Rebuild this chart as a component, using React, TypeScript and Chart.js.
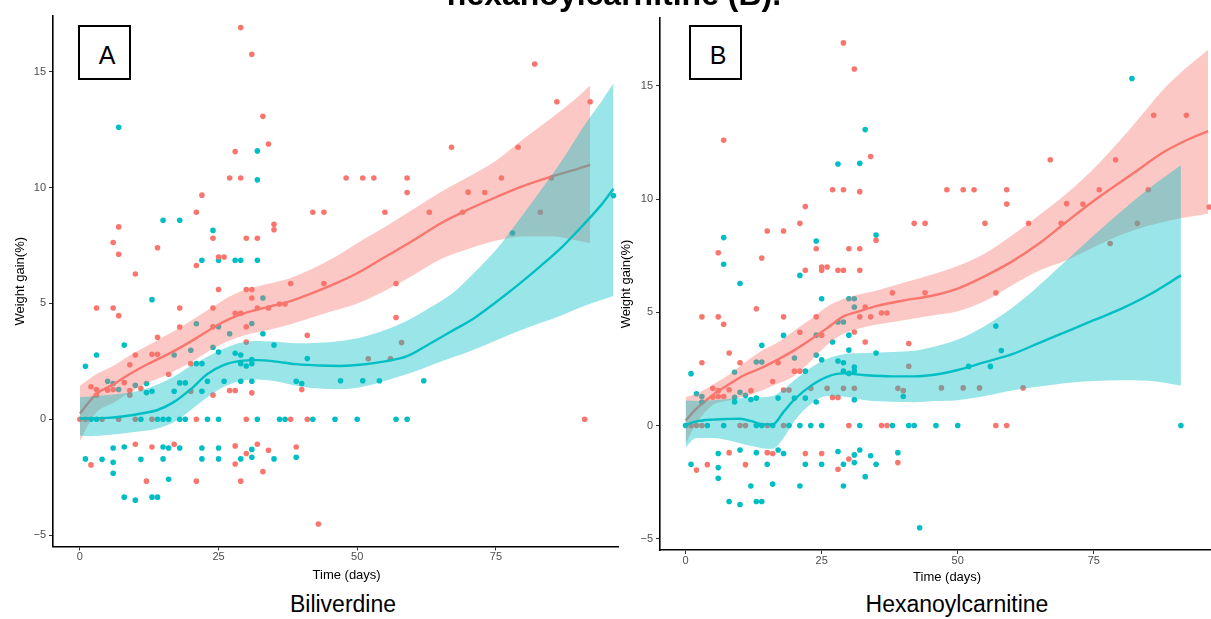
import React, { useEffect, useRef } from 'react';
import { Chart, registerables } from 'chart.js';

Chart.register(...registerables);

const RED = '#F8766D';
const CYAN = '#00BFC4';
const RED_FILL = 'rgba(248,118,109,0.4)';
const CYAN_FILL = 'rgba(0,191,196,0.4)';
const FONT = '"Liberation Sans", Arial, Helvetica, sans-serif';

const xTicks = [0, 25, 50, 75];
const yTicks = [-5, 0, 5, 10, 15];

// Observations (time in days, weight gain in %)
const timeDays = [
  29, 31, 82, 86, 92, 33, 7, 34, 28, 32,
  67, 79, 27, 29, 32, 48, 51, 53, 59, 76,
  85, 59, 70, 73, 22, 96.2, 21, 42, 44, 55,
  63, 69, 83, 15, 18, 35, 7, 35, 24, 78,
  24, 30, 32, 6, 14, 7, 25, 26, 22, 25,
  28, 29, 32, 21, 10, 38, 44, 57, 25, 30,
  31, 31, 33, 13, 36, 37, 3, 6, 18, 24,
  32, 34, 28, 29, 7, 57, 21, 31, 18, 24,
  25, 30, 27, 33, 41, 14, 30, 58, 8, 35,
  24, 20, 25, 28, 3, 10, 13, 14, 17, 29,
  41, 52, 56, 31, 9, 20, 21, 22, 29, 31,
  30, 1, 16, 5, 23, 26, 29, 31, 39, 47,
  51, 54, 62, 6, 12, 40, 8, 18, 19, 10,
  2, 3, 5, 6, 7, 9, 11, 12, 13, 17,
  20, 22, 27, 28, 40, 31, 3, 9, 24,
  0, 1, 2, 3, 4, 7, 10, 11, 13, 14, 15, 16, 18, 19, 21, 23, 25, 30, 32, 36, 37, 38, 41, 42, 46, 50, 57, 59, 91,
  6, 8, 10, 13, 15, 16, 17, 18, 22, 25, 28, 32, 31, 34, 39, 30, 1, 4, 11, 15,
  22, 25, 29, 31, 35, 39, 6, 2, 28, 33, 6, 12, 16, 21, 29, 8, 10, 13, 14, 43,
];

const weightGain = [
  16.9, 15.75, 15.33, 13.7, 13.7, 13.07, 12.6, 11.88, 11.55, 11.58,
  11.74, 11.74, 10.41, 10.41, 10.33, 10.41, 10.41, 10.41, 10.41, 10.41,
  10.41, 9.78, 9.8, 9.78, 9.67, 9.65, 8.93, 8.93, 8.93, 8.93,
  8.93, 8.93, 8.93, 8.59, 8.59, 8.41, 8.3, 8.18, 8.15, 8.04,
  7.81, 7.81, 7.81, 7.63, 7.4, 7.12, 7.0, 7.0, 6.86, 6.86,
  6.86, 6.86, 6.86, 6.63, 6.27, 5.86, 5.86, 5.86, 5.6, 5.6,
  5.6, 5.23, 5.23, 5.16, 4.97, 4.97, 4.8, 4.8, 4.8, 4.8,
  4.8, 4.8, 4.57, 4.57, 4.47, 4.39, 4.12, 4.13, 3.98, 3.99,
  3.99, 3.99, 3.69, 3.69, 3.62, 3.54, 3.33, 3.31, 3.2, 3.2,
  3.11, 2.98, 2.9, 2.85, 2.77, 2.77, 2.8, 2.8, 2.77, 2.77,
  2.62, 2.61, 2.61, 2.58, 2.35, 2.4, 2.4, 2.4, 2.4, 2.4,
  2.3, 2.29, 1.94, 1.64, 1.64, 1.64, 1.64, 1.64, 1.64, 1.66,
  1.66, 1.66, 1.66, 1.54, 1.54, 1.54, 1.58, 1.57, 1.57, 1.47,
  1.4, 1.28, 1.25, 1.28, 1.28, 1.24, 1.33, 1.15, 1.21, 1.21,
  1.21, 1.21, 1.24, 1.24, 1.28, 1.14, 1.04, 1.04, 1.04,
  0, 0, 0, 0, 0, 0, 0, 0, 0, 0, 0, 0, 0, 0, 0, 0, 0, 0, 0, 0, 0, 0, 0, 0, 0, 0, 0, 0, 0,
  -1.24, -1.2, -1.08, -1.2, -1.2, -1.24, -1.08, -1.24, -1.24, -1.24, -1.15, -1.08, -1.3, -1.34, -1.2, -1.48, -1.71, -1.73, -1.73, -1.71,
  -1.71, -1.71, -1.71, -1.64, -1.71, -1.64, -1.86, -1.97, -1.93, -2.26, -2.33, -2.67, -2.59, -2.67, -2.67, -3.36, -3.49, -3.36, -3.36, -4.52,
];

// Group of each observation (0 = red group, 1 = cyan group)
const groupBiliverdine = [
  0, 0, 0, 0, 0, 0, 1, 0, 0, 1,
  0, 0, 0, 0, 1, 0, 0, 0, 0, 0,
  0, 0, 0, 0, 0, 1, 0, 0, 0, 0,
  0, 0, 0, 1, 1, 0, 0, 0, 1, 1,
  0, 0, 0, 0, 0, 0, 0, 0, 1, 1,
  1, 1, 1, 0, 0, 0, 0, 0, 0, 0,
  0, 0, 1, 1, 0, 0, 0, 0, 0, 0,
  0, 0, 0, 0, 0, 0, 1, 1, 0, 0,
  1, 0, 1, 1, 0, 0, 0, 0, 1, 1,
  1, 1, 1, 1, 1, 0, 0, 0, 1, 1,
  1, 0, 0, 1, 0, 0, 1, 1, 1, 1,
  1, 1, 0, 1, 1, 1, 1, 1, 1, 1,
  1, 1, 1, 1, 1, 1, 0, 1, 1, 1,
  0, 0, 0, 0, 1, 0, 0, 1, 1, 1,
  0, 1, 0, 0, 0, 0, 0, 0, 0,
  0, 0, 1, 1, 0, 0, 0, 1, 0, 1, 1, 1, 1, 1, 0, 1, 1, 0, 1, 1, 1, 0, 0, 1, 1, 1, 1, 1, 0,
  1, 1, 0, 0, 1, 1, 0, 1, 1, 1, 0, 0, 1, 0, 0, 0, 1, 1, 1, 1,
  1, 1, 1, 1, 1, 1, 1, 0, 0, 0, 1, 0, 1, 0, 0, 1, 1, 1, 1, 0,
];

const groupHexanoyl = [
  0, 0, 1, 0, 0, 1, 0, 0, 1, 1,
  0, 0, 0, 0, 0, 0, 0, 0, 0, 0,
  0, 0, 0, 0, 0, 0, 0, 0, 0, 0,
  0, 0, 0, 0, 0, 1, 1, 0, 1, 0,
  0, 0, 0, 0, 0, 1, 0, 0, 0, 0,
  0, 0, 0, 1, 1, 0, 0, 0, 1, 1,
  1, 1, 0, 0, 0, 0, 0, 0, 0, 0,
  0, 0, 1, 1, 0, 1, 0, 0, 1, 1,
  0, 1, 1, 0, 0, 1, 1, 1, 0, 1,
  1, 1, 1, 1, 0, 0, 1, 1, 0, 1,
  0, 1, 1, 1, 1, 0, 0, 1, 1, 1,
  1, 1, 0, 0, 0, 0, 0, 0, 0, 0,
  0, 0, 0, 0, 0, 0, 0, 0, 0, 1,
  1, 1, 0, 0, 0, 1, 1, 1, 1, 1,
  1, 1, 0, 0, 1, 1, 1, 1, 1,
  1, 0, 0, 0, 1, 1, 0, 0, 1, 1, 0, 1, 0, 1, 1, 1, 1, 0, 1, 0, 0, 1, 1, 1, 1, 1, 0, 0, 1,
  1, 0, 1, 1, 0, 0, 1, 1, 0, 0, 1, 1, 1, 1, 1, 0, 1, 0, 0, 1,
  1, 1, 1, 1, 1, 0, 1, 0, 0, 1, 1, 1, 1, 1, 1, 1, 1, 1, 1, 1,
];

// Smoothed fits with confidence bands — panel A (Biliverdine)
const bilRedDays = [0, 1.5, 3, 6, 9, 12, 15, 18, 21, 24, 27, 30, 34, 38, 42, 46, 50, 55, 60, 65, 70, 75, 80, 85, 89, 92];
const bilRedFit = [0.25, 0.7, 1.1, 1.5, 1.95, 2.35, 2.7, 3.08, 3.5, 3.95, 4.33, 4.6, 4.85, 5.1, 5.45, 5.85, 6.3, 7.0, 7.7, 8.45, 9.05, 9.58, 10.07, 10.47, 10.75, 10.98];
const bilRedUpper = [1.45, 1.7, 1.95, 2.3, 2.75, 3.15, 3.55, 3.95, 4.4, 4.85, 5.3, 5.6, 5.85, 6.1, 6.5, 7.0, 7.6, 8.3, 9.05, 9.8, 10.45, 11.15, 12.1, 13.0, 13.75, 14.4];
const bilRedLower = [-0.95, -0.25, 0.3, 0.7, 1.15, 1.55, 1.85, 2.2, 2.6, 3.05, 3.4, 3.65, 3.85, 4.1, 4.4, 4.7, 5.0, 5.55, 6.2, 6.9, 7.35, 7.7, 7.9, 7.9, 7.75, 7.6];

const bilCyanDays = [0, 2, 5, 8, 11, 14, 17, 20, 23, 26, 29, 32, 35, 39, 43, 47, 51, 55, 59, 63, 67, 71, 75, 79, 83, 87, 91, 94, 96.2];
const bilCyanFit = [0.03, 0.04, 0.06, 0.13, 0.25, 0.4, 0.75, 1.3, 1.95, 2.35, 2.52, 2.55, 2.5, 2.38, 2.32, 2.3, 2.36, 2.5, 2.72, 3.25, 3.8, 4.35, 5.05, 5.8, 6.6, 7.45, 8.45, 9.25, 9.95];
const bilCyanUpper = [0.95, 0.98, 1.05, 1.12, 1.25, 1.5, 1.85, 2.3, 2.7, 3.05, 3.3, 3.38, 3.35, 3.28, 3.3, 3.38, 3.55, 3.85, 4.25, 4.8, 5.4, 6.3, 7.3, 8.55, 9.85, 11.2, 12.7, 13.7, 14.5];
const bilCyanLower = [-0.7, -0.73, -0.68, -0.6, -0.52, -0.4, -0.12, 0.4, 0.95, 1.4, 1.65, 1.72, 1.65, 1.45, 1.33, 1.3, 1.4, 1.65, 1.95, 2.3, 2.65, 3.0, 3.4, 3.8, 4.15, 4.5, 4.9, 5.15, 5.32];

// Smoothed fits with confidence bands — panel B (Hexanoylcarnitine)
const hexRedDays = [0, 2, 5, 8, 11, 14, 17, 20, 23, 26, 29, 32, 35, 40, 45, 50, 55, 60, 65, 70, 76, 82, 88, 92, 96];
const hexRedFit = [0.22, 0.74, 1.35, 1.82, 2.25, 2.55, 2.92, 3.33, 3.8, 4.3, 4.82, 5.05, 5.27, 5.52, 5.72, 6.05, 6.6, 7.25, 8.05, 9.0, 10.1, 11.1, 12.1, 12.6, 13.0];
const hexRedUpper = [1.25, 1.4, 1.8, 2.25, 2.8, 3.3, 3.68, 4.2, 4.7, 5.25, 5.6, 5.8, 5.95, 6.3, 6.65, 7.05, 7.6, 8.4, 9.3, 10.25, 11.6, 13.2, 14.9, 15.8, 16.6];
const hexRedLower = [-0.8, 0.1, 0.9, 1.1, 1.3, 1.55, 1.85, 2.2, 2.85, 3.55, 4.05, 4.3, 4.45, 4.65, 4.85, 5.05, 5.5, 6.2, 6.85, 7.3, 8.0, 8.6, 9.0, 9.2, 9.35];

const hexCyanDays = [0, 2, 5, 8, 10, 12, 14, 16, 18, 20, 23, 26, 29, 33, 38, 42, 46, 50, 55, 60, 65, 70, 75, 80, 85, 91];
const hexCyanFit = [0.02, 0.18, 0.26, 0.29, 0.3, 0.2, 0.05, 0.05, 0.6, 1.15, 1.75, 2.15, 2.3, 2.22, 2.17, 2.17, 2.25, 2.45, 2.8, 3.15, 3.65, 4.15, 4.65, 5.15, 5.75, 6.63];
const hexCyanUpper = [1.1, 1.08, 1.12, 1.18, 1.2, 1.22, 1.25, 1.3, 1.6, 2.0, 2.55, 2.95, 3.15, 3.2, 3.25, 3.3, 3.5, 3.8, 4.4, 5.2, 6.2, 7.3, 8.4, 9.45, 10.45, 11.5];
const hexCyanLower = [-0.96, -0.55, -0.55, -0.66, -0.78, -0.9, -1.0, -1.03, -0.55, 0.2, 0.95, 1.3, 1.28, 1.12, 1.05, 1.03, 1.08, 1.12, 1.3, 1.55, 1.72, 1.88, 1.97, 2.0, 1.98, 1.77];

type PanelSpec = {
  groups: number[];
  redDays: number[]; redFit: number[]; redUpper: number[]; redLower: number[];
  cyanDays: number[]; cyanFit: number[]; cyanUpper: number[]; cyanLower: number[];
  left: number; width: number; height: number;
  xMin: number; xMax: number; yMin: number; yMax: number;
  padTop: number; yAxisWidth: number; xAxisHeight: number;
  yTitlePad: number; xTitlePad: number;
};

const biliverdinePanel: PanelSpec = {
  groups: groupBiliverdine,
  redDays: bilRedDays, redFit: bilRedFit, redUpper: bilRedUpper, redLower: bilRedLower,
  cyanDays: bilCyanDays, cyanFit: bilCyanFit, cyanUpper: bilCyanUpper, cyanLower: bilCyanLower,
  left: 0, width: 643, height: 590,
  xMin: -4.845, xMax: 101.02, yMin: -5.49, yMax: 17.4,
  padTop: 16, yAxisWidth: 53, xAxisHeight: 43.5,
  yTitlePad: 12.9, xTitlePad: 7.2,
};

const hexanoylPanel: PanelSpec = {
  groups: groupHexanoyl,
  redDays: hexRedDays, redFit: hexRedFit, redUpper: hexRedUpper, redLower: hexRedLower,
  cyanDays: hexCyanDays, cyanFit: hexCyanFit, cyanUpper: hexCyanUpper, cyanLower: hexCyanLower,
  left: 610, width: 627, height: 590,
  xMin: -4.70, xMax: 100.79, yMin: -5.5, yMax: 18.0,
  padTop: 18, yAxisWidth: 50, xAxisHeight: 40,
  yTitlePad: 8.2, xTitlePad: 4.7,
};

function fmt(v: any) {
  const n = Number(v);
  return n < 0 ? '\u2212' + Math.abs(n) : String(n);
}

function xy(days: number[], vals: number[]) {
  return days.map((d, i) => ({ x: d, y: vals[i] }));
}

function groupPoints(groups: number[], g: number) {
  const out: { x: number; y: number }[] = [];
  for (let i = 0; i < timeDays.length; i++) {
    if (groups[i] === g) out.push({ x: timeDays[i], y: weightGain[i] });
  }
  return out;
}

function PanelChart({ panel }: { panel: PanelSpec }) {
  const ref = useRef<HTMLCanvasElement | null>(null);
  useEffect(() => {
    const canvas = ref.current;
    if (!canvas) return;
    const curve = { pointRadius: 0, pointHoverRadius: 0, cubicInterpolationMode: 'monotone' as const };
    const axisGrid = {
      display: true,
      drawOnChartArea: false,
      drawTicks: true,
      tickLength: 4,
      color: '#333333',
      tickColor: '#333333',
      tickWidth: 1,
    };
    const axisBorder = { display: true, color: '#000000', width: 1.6 };
    const chart = new Chart(canvas, {
      type: 'line',
      data: {
        datasets: [
          {
            label: 'group 1',
            data: groupPoints(panel.groups, 0),
            showLine: false,
            pointRadius: 2.8,
            pointHoverRadius: 2.8,
            pointBackgroundColor: RED,
            pointBorderWidth: 0,
            borderColor: RED,
            order: 10,
          },
          {
            label: 'group 2',
            data: groupPoints(panel.groups, 1),
            showLine: false,
            pointRadius: 2.8,
            pointHoverRadius: 2.8,
            pointBackgroundColor: CYAN,
            pointBorderWidth: 0,
            borderColor: CYAN,
            order: 10,
          },
          {
            label: 'group 1 upper',
            data: xy(panel.redDays, panel.redUpper),
            ...curve,
            borderWidth: 0,
            borderColor: 'rgba(0,0,0,0)',
            backgroundColor: RED_FILL,
            fill: '+1',
            order: 9,
          },
          {
            label: 'group 1 lower',
            data: xy(panel.redDays, panel.redLower),
            ...curve,
            borderWidth: 0,
            borderColor: 'rgba(0,0,0,0)',
            fill: false,
            order: 9,
          },
          {
            label: 'group 1 fit',
            data: xy(panel.redDays, panel.redFit),
            ...curve,
            borderWidth: 2.4,
            borderColor: RED,
            fill: false,
            order: 8,
          },
          {
            label: 'group 2 upper',
            data: xy(panel.cyanDays, panel.cyanUpper),
            ...curve,
            borderWidth: 0,
            borderColor: 'rgba(0,0,0,0)',
            backgroundColor: CYAN_FILL,
            fill: '+1',
            order: 7,
          },
          {
            label: 'group 2 lower',
            data: xy(panel.cyanDays, panel.cyanLower),
            ...curve,
            borderWidth: 0,
            borderColor: 'rgba(0,0,0,0)',
            fill: false,
            order: 7,
          },
          {
            label: 'group 2 fit',
            data: xy(panel.cyanDays, panel.cyanFit),
            ...curve,
            borderWidth: 2.4,
            borderColor: CYAN,
            fill: false,
            order: 6,
          },
        ],
      },
      options: {
        responsive: false,
        maintainAspectRatio: false,
        animation: false,
        events: [],
        layout: { padding: { top: panel.padTop, left: 0, right: 0, bottom: 0 } },
        plugins: {
          legend: { display: false },
          tooltip: { enabled: false },
          title: { display: false },
        },
        scales: {
          x: {
            type: 'linear',
            min: panel.xMin,
            max: panel.xMax,
            afterBuildTicks: (s: any) => {
              s.ticks = xTicks.map((v) => ({ value: v }));
            },
            afterFit: (s: any) => {
              s.height = panel.xAxisHeight;
            },
            ticks: {
              font: { family: FONT, size: 11 },
              color: '#4d4d4d',
              padding: 0,
              maxRotation: 0,
              autoSkip: false,
              callback: fmt,
            },
            grid: axisGrid,
            border: axisBorder,
            title: {
              display: true,
              text: 'Time (days)',
              color: '#000000',
              font: { family: FONT, size: 13 },
              padding: { top: 0, bottom: panel.xTitlePad },
            },
          },
          y: {
            type: 'linear',
            min: panel.yMin,
            max: panel.yMax,
            afterBuildTicks: (s: any) => {
              s.ticks = yTicks.map((v) => ({ value: v }));
            },
            afterFit: (s: any) => {
              s.width = panel.yAxisWidth;
            },
            ticks: {
              font: { family: FONT, size: 11 },
              color: '#4d4d4d',
              padding: 3,
              autoSkip: false,
              callback: fmt,
            },
            grid: axisGrid,
            border: axisBorder,
            title: {
              display: true,
              text: 'Weight gain(%)',
              color: '#000000',
              font: { family: FONT, size: 13 },
              padding: { top: panel.yTitlePad, bottom: 0 },
            },
          },
        },
      } as any,
    });
    return () => chart.destroy();
  }, [panel]);
  return (
    <canvas
      ref={ref}
      width={panel.width}
      height={panel.height}
      style={{
        position: 'absolute',
        left: panel.left,
        top: 0,
        width: panel.width,
        height: panel.height,
        display: 'block',
      }}
    />
  );
}

function LabelBox({ left, text }: { left: number; text: string }) {
  return (
    <div
      style={{
        position: 'absolute',
        left,
        top: 25,
        width: 53,
        height: 55,
        boxSizing: 'border-box',
        border: '2px solid #000',
        background: '#fff',
        display: 'flex',
        alignItems: 'center',
        justifyContent: 'center',
        fontFamily: FONT,
        fontSize: 25,
        color: '#000',
      }}
    >
      <span style={{ transform: 'translate(2.5px, 3px)' }}>{text}</span>
    </div>
  );
}

export default function App() {
  return (
    <div
      style={{
        position: 'absolute',
        left: 0,
        top: 0,
        width: 1211,
        height: 619,
        overflow: 'hidden',
        background: '#ffffff',
        fontFamily: FONT,
      }}
    >
      <div style={{ position: 'absolute', left: 0, top: 0, width: 619, height: 619, overflow: 'hidden' }}>
        <PanelChart panel={biliverdinePanel} />
      </div>
      <PanelChart panel={hexanoylPanel} />
      <div
        style={{
          position: 'absolute',
          left: 314,
          top: -22,
          width: 600,
          textAlign: 'center',
          fontFamily: FONT,
          fontWeight: 'bold',
          fontSize: 32,
          lineHeight: '32px',
          color: '#000',
          whiteSpace: 'nowrap',
        }}
      >
        hexanoylcarnitine (B).
      </div>
      <LabelBox left={78} text="A" />
      <LabelBox left={689} text="B" />
      <div
        style={{
          position: 'absolute',
          left: 243,
          top: 593,
          width: 200,
          textAlign: 'center',
          fontFamily: FONT,
          fontSize: 23,
          lineHeight: '23px',
          color: '#000',
        }}
      >
        Biliverdine
      </div>
      <div
        style={{
          position: 'absolute',
          left: 857,
          top: 593,
          width: 200,
          textAlign: 'center',
          fontFamily: FONT,
          fontSize: 23,
          lineHeight: '23px',
          color: '#000',
        }}
      >
        Hexanoylcarnitine
      </div>
    </div>
  );
}
